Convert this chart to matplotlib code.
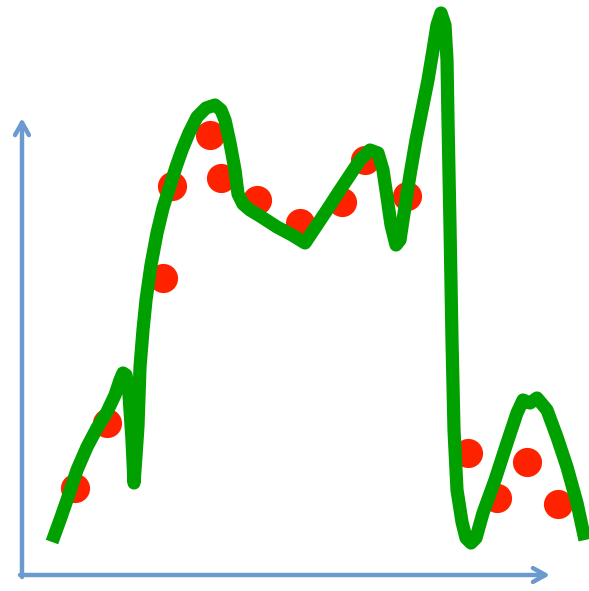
import matplotlib
matplotlib.use('Agg')
import matplotlib.pyplot as plt

# Observed samples (red dots)
dots_x = [75, 107, 163, 172, 210, 221, 257, 300, 342, 365, 407, 468, 497, 527, 558]
dots_y = [103, 168, 313, 405, 456, 413, 391, 368, 389, 431, 395, 138, 93, 129, 87]

# Over-fitted curve (green)
curve_x = [52, 60, 67, 77, 87, 97, 107, 115, 120, 123, 126, 129, 132, 134, 136,
           138, 140, 143, 146, 151, 157, 163, 170, 176, 182, 189, 197, 206, 215,
           221, 225, 230, 235, 238, 243, 250, 260, 277, 292, 305, 315, 327, 340,
           350, 360, 370, 378, 383, 387, 391, 396, 400, 403, 410, 416, 422, 428,
           433, 437, 441, 445, 447, 448, 450, 452, 454, 457, 462, 466, 471, 476,
           483, 495, 507, 517, 523, 530, 537, 547, 557, 567, 577, 585]
curve_y = [49, 71, 91, 121, 144, 163, 179, 196, 211, 218, 216, 196, 151, 108, 135,
           165, 224, 261, 291, 326, 358, 383, 405, 424, 441, 458, 474, 483, 486,
           481, 471, 448, 421, 397, 387, 381, 375, 364, 356, 348, 363, 381, 401,
           416, 431, 441, 438, 421, 394, 366, 346, 351, 371, 416, 451, 481, 511,
           541, 566, 578, 566, 531, 471, 365, 251, 161, 101, 69, 53, 48, 53,
           78, 111, 148, 178, 191, 188, 193, 181, 154, 124, 88, 51]

fig = plt.figure(figsize=(5.89, 5.91), dpi=100)
ax = fig.add_axes([0, 0, 1, 1])
ax.set_xlim(0, 589)
ax.set_ylim(0, 591)
ax.axis('off')

axis_blue = '#6a9ad0'
arrow = dict(arrowstyle='->,head_length=0.9,head_width=0.5', color=axis_blue,
             lw=3.2, shrinkA=0, shrinkB=0)
ax.annotate('', xy=(22, 473), xytext=(22, 14), arrowprops=arrow)
ax.annotate('', xy=(550, 16), xytext=(20, 16), arrowprops=arrow)

ax.plot(dots_x, dots_y, 'o', color='#ff2200', markersize=21, markeredgewidth=0)
ax.plot(curve_x, curve_y, color='#00a000', lw=9.5, solid_joinstyle='round',
        solid_capstyle='butt')

fig.savefig('out.png', dpi=100, facecolor='white')
